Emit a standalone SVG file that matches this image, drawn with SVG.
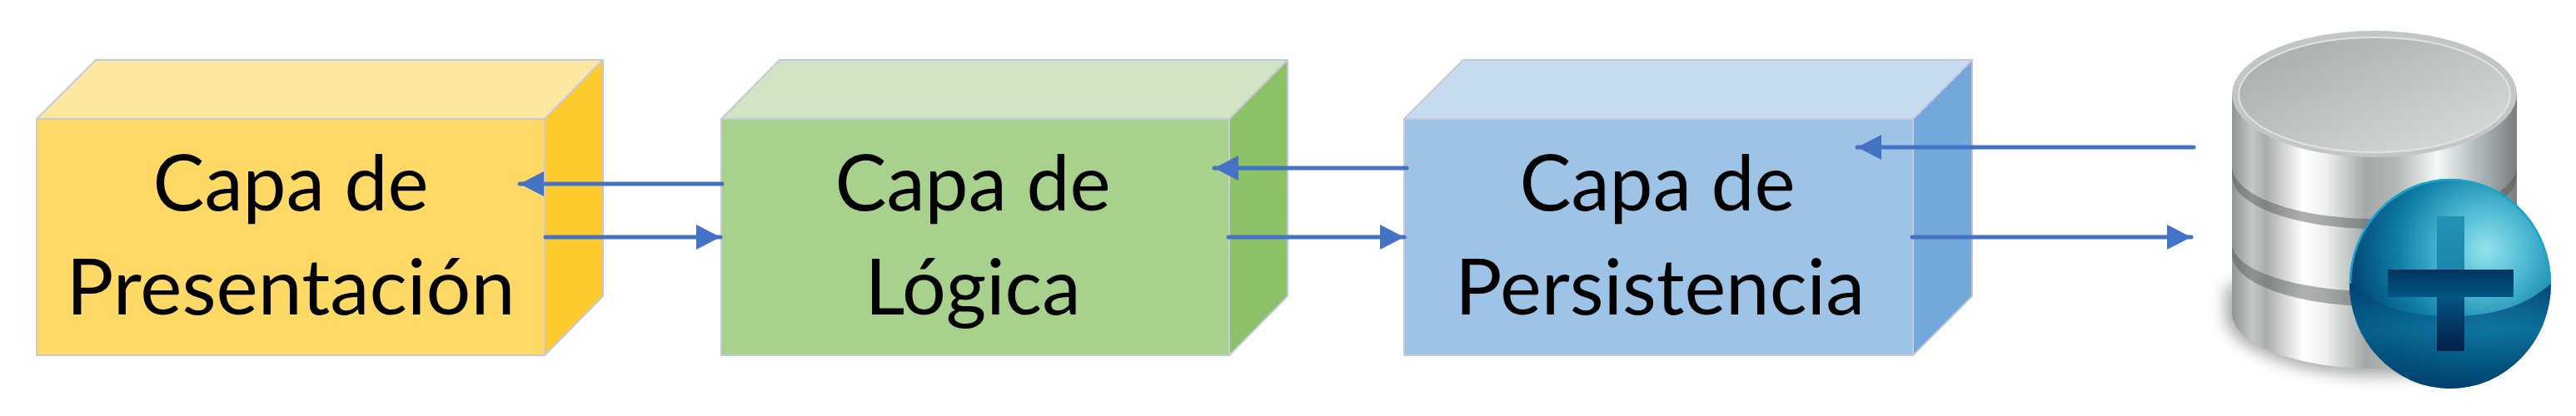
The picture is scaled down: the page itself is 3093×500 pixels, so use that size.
<svg xmlns="http://www.w3.org/2000/svg" width="3093" height="500" viewBox="0 0 3093 500">
<style>
.f{stroke:#c6cad6;stroke-width:2;stroke-linejoin:round}
.t{font-family:Lato,"Liberation Sans",sans-serif;font-size:93px;fill:#000;text-anchor:middle}
.c{fill:none;stroke:#4472c4;stroke-width:5;stroke-linecap:round;marker-end:url(#ah)}
.s{stroke:none}
</style>
<defs>
<marker id="ah" markerUnits="userSpaceOnUse" markerWidth="32" markerHeight="32" refX="29" refY="16" orient="auto"><path d="M0 1L29 16L0 31Z" fill="#4472c4"/></marker>
<linearGradient id="metal" x1="0" x2="1" y1="0" y2="0">
<stop offset="0" stop-color="#8f9394"/><stop offset=".07" stop-color="#c4c7c8"/><stop offset=".12" stop-color="#a9adae"/><stop offset=".25" stop-color="#fff"/><stop offset=".33" stop-color="#eef0f0"/><stop offset=".47" stop-color="#a4a8a9"/><stop offset=".58" stop-color="#b4b8b9"/><stop offset=".72" stop-color="#f5f8f8"/><stop offset=".84" stop-color="#b9c3c5"/><stop offset=".95" stop-color="#8e9596"/><stop offset="1" stop-color="#777c7d"/>
</linearGradient>
<linearGradient id="top" x1="0" x2="1" y1="0" y2="1">
<stop offset="0" stop-color="#a5a8a9"/><stop offset="1" stop-color="#dcdfe0"/>
</linearGradient>
<radialGradient id="ball" gradientUnits="userSpaceOnUse" cx="2985" cy="300" r="170">
<stop offset="0" stop-color="#93e3ec"/><stop offset=".3" stop-color="#4cb8d2"/><stop offset=".62" stop-color="#0f7fa8"/><stop offset="1" stop-color="#00406f"/>
</radialGradient>
<linearGradient id="low" x1="0" x2="0" y1="0" y2="1">
<stop offset="0" stop-color="#003f70" stop-opacity=".95"/><stop offset=".45" stop-color="#0a6c96" stop-opacity=".7"/><stop offset=".75" stop-color="#03547f" stop-opacity=".75"/><stop offset="1" stop-color="#00406f" stop-opacity="1"/>
</linearGradient>
<linearGradient id="crossV" gradientUnits="userSpaceOnUse" x1="0" x2="0" y1="260" y2="422">
<stop offset="0" stop-color="#2392b6"/><stop offset=".4" stop-color="#1a86ab"/><stop offset=".62" stop-color="#06507f"/><stop offset="1" stop-color="#001f47"/>
</linearGradient>
<linearGradient id="crossH" x1="0" x2="0" y1="0" y2="1">
<stop offset="0" stop-color="#00355f"/><stop offset="1" stop-color="#005584"/>
</linearGradient>
<filter id="blur" x="-20%" y="-20%" width="140%" height="140%"><feGaussianBlur stdDeviation="9"/></filter>
</defs>
<rect width="3093" height="500" fill="#fff"/>
<g id="capa-presentacion">
<path class="f" fill="#ffe79f" d="M44 143L115 72H724L654 143Z"/>
<path class="f" fill="#ffca2c" d="M654 143L724 72V356L654 427Z"/>
<rect class="f" fill="#ffd966" x="44" y="143" width="610" height="284"/>
<text class="t" x="349" y="253" textLength="331" lengthAdjust="spacingAndGlyphs">Capa de</text>
<text class="t" x="349" y="378" textLength="539" lengthAdjust="spacingAndGlyphs">Presentación</text>
</g>
<g id="capa-logica">
<path class="f" fill="#d1e4c4" d="M866 143L936 72H1546L1476 143Z"/>
<path class="f" fill="#8cc168" d="M1476 143L1546 72V356L1476 427Z"/>
<rect class="f" fill="#a9d18e" x="866" y="143" width="610" height="284"/>
<text class="t" x="1168" y="253" textLength="331" lengthAdjust="spacingAndGlyphs">Capa de</text>
<text class="t" x="1168" y="378" textLength="259" lengthAdjust="spacingAndGlyphs">Lógica</text>
</g>
<g id="capa-persistencia">
<path class="f" fill="#c8dcf0" d="M1686 143L1757 72H2368L2297 143Z"/>
<path class="f" fill="#73a8da" d="M2297 143L2368 72V356L2297 427Z"/>
<rect class="f" fill="#9dc3e6" x="1686" y="143" width="611" height="284"/>
<text class="t" x="1990" y="253" textLength="331" lengthAdjust="spacingAndGlyphs">Capa de</text>
<text class="t" x="1993" y="378" textLength="492" lengthAdjust="spacingAndGlyphs">Persistencia</text>
</g>
<g id="base-de-datos">
<path fill="#555" opacity=".5" filter="url(#blur)" d="M2672 345V385C2690 430 2780 452 2860 452C2900 452 2950 445 2980 430L2900 300Z"/>
<path fill="url(#metal)" d="M2680 300V377A171 66 0 0 0 3022 377V300Z"/>
<path fill="url(#metal)" d="M2680 270V306A171 62 0 0 0 3022 306V270Z"/>
<path fill="#4d5253" opacity=".45" d="M2680 270V306A171 62 0 0 0 3022 306V270Z"/>
<path fill="url(#metal)" d="M2680 210V293A171 57 0 0 0 3022 293V210Z"/>
<path fill="url(#metal)" d="M2680 180V212A171 63 0 0 0 3022 212V180Z"/>
<path fill="#4d5253" opacity=".45" d="M2680 180V212A171 63 0 0 0 3022 212V180Z"/>
<path fill="url(#metal)" d="M2680 113V200A171 63 0 0 0 3022 200V113Z"/>
<ellipse cx="2851" cy="113" rx="171" ry="76" fill="#c3c6c7"/>
<ellipse cx="2851" cy="114" rx="163" ry="69" fill="url(#top)" stroke="#e0e2e2" stroke-width="2"/>
<ellipse class="s" cx="2942" cy="341" rx="121" ry="126" fill="url(#ball)"/>
<path class="s" fill="url(#low)" d="M2821 341C2860 372 2895 380 2942 380C2990 380 3030 370 3063 341A121 126 0 0 1 2821 341Z"/>
<path d="M2822 341A120 125 0 0 1 3062 341" fill="none" stroke="#18a5c6" stroke-width="2.5"/>
<rect class="s" x="2926" y="260" width="33" height="162" fill="url(#crossV)"/>
<rect class="s" x="2867" y="324" width="151" height="33" fill="url(#crossH)"/>
</g>
<g id="conectores">
<path class="c" d="M867 221H624"/>
<path class="c" d="M655 285H865"/>
<path class="c" d="M1689 202H1458"/>
<path class="c" d="M1475 285H1686"/>
<path class="c" d="M2634 177H2230"/>
<path class="c" d="M2296 285H2631"/>
</g>
</svg>
